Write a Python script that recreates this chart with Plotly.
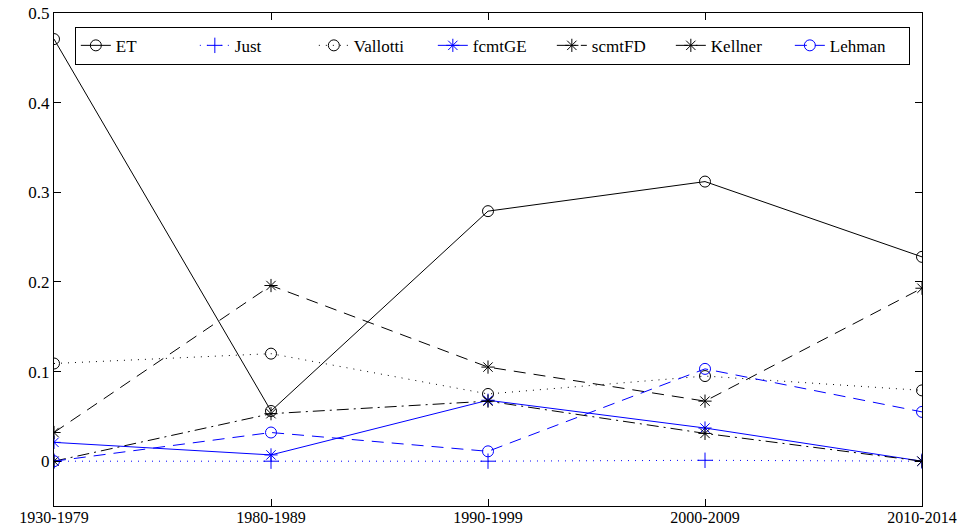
import plotly.graph_objects as go

categories = ["1930-1979", "1980-1989", "1990-1999", "2000-2009", "2010-2014"]
ET = [0.471, 0.056, 0.279, 0.312, 0.228]
Just = [0.0, 0.0, 0.0, 0.001, 0.0]
Vallotti = [0.109, 0.120, 0.075, 0.095, 0.079]
fcmtGE = [0.021, 0.007, 0.068, 0.037, 0.0]
scmtFD = [0.0, 0.053, 0.067, 0.031, 0.0]
Kellner = [0.032, 0.196, 0.105, 0.067, 0.193]
Lehman = [0.0, 0.032, 0.011, 0.103, 0.055]
y_ticks = [0, 0.1, 0.2, 0.3, 0.4, 0.5]
y_tick_labels = ["0", "0.1", "0.2", "0.3", "0.4", "0.5"]

series = [
    ("ET", ET, "black", "solid", "circle-open"),
    ("Just", Just, "blue", "1px,6px", "cross-thin-open"),
    ("Vallotti", Vallotti, "black", "1px,6px", "circle-open"),
    ("fcmtGE", fcmtGE, "blue", "solid", "asterisk-open"),
    ("scmtFD", scmtFD, "black", "12px,5px,2px,5px", "asterisk-open"),
    ("Kellner", Kellner, "black", "12px,8px", "asterisk-open"),
    ("Lehman", Lehman, "blue", "12px,8px", "circle-open"),
]

fig = go.Figure()
for name, vals, color, dash, sym in series:
    fig.add_trace(go.Scatter(
        x=categories, y=vals, name=name, mode="lines+markers",
        line=dict(color=color, dash=dash, width=1),
        marker=dict(symbol=sym, size=11, color=color, line=dict(width=1, color=color)),
    ))

font = dict(family="Liberation Serif, Tinos, Times, DejaVu Serif, serif", size=17, color="black")
xfont = dict(family="Liberation Serif, Tinos, Times, DejaVu Serif, serif", size=16, color="black")
fig.update_layout(
    width=967, height=529,
    margin=dict(l=54, r=45, t=13, b=23, autoexpand=False),
    plot_bgcolor="white", paper_bgcolor="white",
    font=font,
    showlegend=True,
    legend=dict(orientation="h", x=0.024, y=0.972, xanchor="left", yanchor="top",
                bordercolor="black", borderwidth=1, bgcolor="white",
                font=font, entrywidth=74, entrywidthmode="pixels"),
)
fig.update_xaxes(range=[0, 4], showline=True, linecolor="black", linewidth=1,
                 mirror="ticks", ticks="inside", ticklen=7, tickcolor="black",
                 showgrid=False, zeroline=False, tickfont=xfont, automargin=False,
                 ticklabeloverflow="allow", ticklabelstandoff=-3)
fig.update_yaxes(range=[-0.05, 0.5001], showline=True, linecolor="black", linewidth=1,
                 mirror="ticks", ticks="inside", ticklen=7, tickcolor="black",
                 tickvals=y_ticks, ticktext=y_tick_labels,
                 showgrid=False, zeroline=False, tickfont=font, automargin=False,
                 ticklabeloverflow="allow")

fig.write_html("out.html", config={"displayModeBar": False},
               post_script="document.body.style.margin='0';document.body.style.overflow='hidden';")
